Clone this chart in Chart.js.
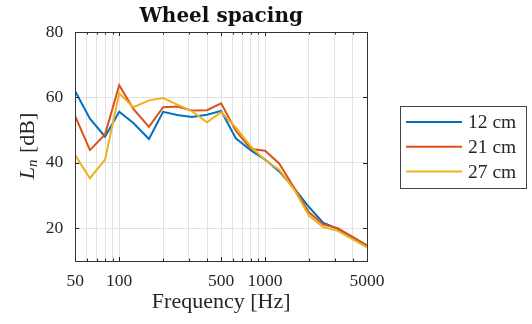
<!DOCTYPE html>
<html>
<head>
<meta charset="utf-8">
<script src="https://cdn.jsdelivr.net/npm/chart.js@4.4.0/dist/chart.umd.min.js"></script>
<style>
html,body{margin:0;padding:0;background:#fff;}
#wrap{width:532px;height:324px;}
</style>
</head>
<body>
<div id="wrap"><canvas id="chart" width="532" height="324"></canvas></div>
<script>
// 1/3 octave bands
const freqs=[50,63,80,100,125,160,200,250,315,400,500,630,800,1000,1250,1600,2000,2500,3150,4000,5000];
const ln12=[61.8,53.5,48.0,55.6,52.2,47.3,55.6,54.6,54.0,54.7,55.9,47.5,43.8,41.0,37.4,32.0,26.5,21.7,19.8,17.2,14.7];
const ln21=[54.2,43.9,48.7,63.7,56.5,51.0,57.0,57.2,56.0,56.1,58.2,49.8,44.2,43.7,39.8,32.0,24.9,21.2,20.0,17.3,14.8];
const ln27=[42.3,35.3,41.0,61.3,57.0,59.1,59.8,57.8,55.8,52.4,55.5,50.8,45.0,40.8,37.9,31.5,23.9,20.4,19.2,16.6,14.2];
const seriesNames=["12 cm","21 cm","27 cm"];
const colors=["#0072BD","#D95319","#EDB120"];
const xGrid=[50,60,70,80,90,100,200,300,400,500,600,700,800,900,1000,2000,3000,4000,5000];
const xLabels=[50,100,500,1000,5000];
const yTicks=[20,40,60,80];

const TXT="#262626";
const GRID="#e2e2e2";

function pts(vals){
return freqs.map((f,i)=>({x:f,y:vals[i]}));
}

const boxPlugin={
id:"boxPlugin",
afterDraw(c){
const ctx=c.ctx;
const a=c.chartArea;
const sx=c.scales.x, sy=c.scales.y;
ctx.save();
// ticks pointing inward
ctx.strokeStyle=TXT;
ctx.lineWidth=1;
sx.ticks.forEach(t=>{
const p=Math.round(sx.getPixelForValue(t.value))+0.5;
const len=xLabels.includes(t.value)?4:2.5;
ctx.beginPath();
ctx.moveTo(p,a.bottom);ctx.lineTo(p,a.bottom-len);
ctx.moveTo(p,a.top);ctx.lineTo(p,a.top+len);
ctx.stroke();
});
yTicks.forEach(v=>{
const p=Math.round(sy.getPixelForValue(v))+0.5;
ctx.beginPath();
ctx.moveTo(a.left,p);ctx.lineTo(a.left+4,p);
ctx.moveTo(a.right,p);ctx.lineTo(a.right-4,p);
ctx.stroke();
});
// axes box
ctx.strokeStyle="#333";
ctx.strokeRect(Math.round(a.left)+0.5,Math.round(a.top)+0.5,Math.round(a.right-a.left),Math.round(a.bottom-a.top));

// y title  L_n [dB]
ctx.fillStyle=TXT;
ctx.translate(28,(a.top+a.bottom)/2);
ctx.rotate(-Math.PI/2);
ctx.textBaseline="middle";
const fL="italic 22px 'Liberation Serif'";
const fn="italic 15px 'Liberation Serif'";
const fr="22px 'Liberation Serif'";
ctx.font=fL;const wL=ctx.measureText("L").width;
ctx.font=fn;const wn=ctx.measureText("n").width;
ctx.font=fr;const wr=ctx.measureText(" [dB]").width;
let x0=-(wL+wn+wr)/2;
ctx.font=fL;ctx.fillText("L",x0,0);
ctx.font=fn;ctx.fillText("n",x0+wL,5);
ctx.font=fr;ctx.fillText(" [dB]",x0+wL+wn+1,0);
ctx.restore();

// legend
ctx.save();
const lx=a.right+33, lw=126, lh=82;
const ly=(a.top+a.bottom)/2-lh/2;
ctx.fillStyle="#fff";
ctx.fillRect(lx,ly,lw,lh);
ctx.strokeStyle="#444";
ctx.lineWidth=1;
ctx.strokeRect(Math.round(lx)+0.5,Math.round(ly)+0.5,lw,lh);
ctx.font="19.5px 'Liberation Serif'";
ctx.textBaseline="middle";
c.data.datasets.forEach((d,i)=>{
const yy=ly+16.5+i*24.7;
ctx.strokeStyle=d.borderColor;
ctx.lineWidth=2;
ctx.beginPath();ctx.moveTo(lx+6,yy);ctx.lineTo(lx+62,yy);ctx.stroke();
ctx.fillStyle=TXT;
ctx.fillText(d.label,lx+68,yy+1);
});
ctx.restore();
}
};

const ctx=document.getElementById("chart").getContext("2d");
const chart=new Chart(ctx,{
type:"line",
data:{
datasets:[ln12,ln21,ln27].map((v,i)=>({
label:seriesNames[i],
data:pts(v),
borderColor:colors[i],
backgroundColor:colors[i],
borderWidth:2,
pointRadius:0,
tension:0,
order:3-i
}))
},
options:{
responsive:false,
animation:false,
devicePixelRatio:1,
layout:{padding:{left:0,right:165,top:0,bottom:0}},
plugins:{
legend:{display:false},
tooltip:{enabled:false},
title:{
display:true,
fullSize:false,
text:"Wheel spacing",
color:"#111",
font:{family:"'DejaVu Serif'",size:20,weight:"bold",lineHeight:1.2},
padding:{top:5,bottom:3}
}
},
scales:{
x:{
type:"logarithmic",
min:50,max:5000,
afterFit(s){s.height=63;},
afterBuildTicks(s){s.ticks=xGrid.map(v=>({value:v}));},
grid:{color:GRID,drawTicks:false},
border:{display:false},
ticks:{
autoSkip:false,maxRotation:0,padding:9.5,color:TXT,
font:{family:"'Liberation Serif'",size:17.5},
callback:v=>xLabels.includes(v)?String(v):""
},
title:{
display:true,text:"Frequency [Hz]",color:TXT,
font:{family:"'Liberation Serif'",size:22,lineHeight:1.2},
padding:{top:0,bottom:9}
}
},
y:{
min:10,max:80,
afterFit(s){s.width=75.3;},
afterBuildTicks(s){s.ticks=yTicks.map(v=>({value:v}));},
grid:{color:GRID,drawTicks:false},
border:{display:false},
ticks:{
padding:12,color:TXT,
font:{family:"'Liberation Serif'",size:17.5}
}
}
}
},
plugins:[boxPlugin]
});
</script>
</body>
</html>
